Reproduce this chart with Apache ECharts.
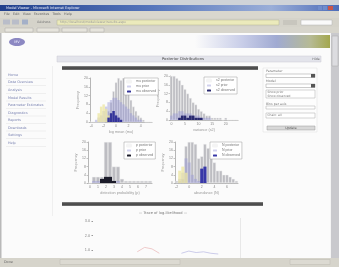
<!DOCTYPE html>
<html>
<head>
<meta charset="utf-8">
<script src="https://cdn.jsdelivr.net/npm/echarts@6/dist/echarts.min.js"></script>
<style>
html,body{margin:0;padding:0;background:#eeeeef;overflow:hidden;}
#main{width:339px;height:267px;filter:blur(0.5px);}
</style>
</head>
<body>
<div id="main"></div>
<script>
// histogram counts (0..20 scale)
var grayTL = [0,0,0,0,0,0,2,5,9,14,18,20,19,20,17,13,10,7,5,3,2,1,0,0,0];
var lavTL  = [0,0,1,2,3,5,7,9,10,11,11,10,9,8,7,6,4,3,2,1,1,0,0,0,0];
var yelTL  = [0,0,0,4,7,8,6,3,0,0,0,0,0,0,0,0,0,0,0,0,0,0,0,0,0];
var blueTL = [0,0,0,0,0,0,0,2,4,5,3,2,1,0,0,0,0,0,0,0,0,0,0,0,0];
var ticksTL = ['-4','-2','0','2','4'];

var grayTR = [20,20,19,18,16,14,12,10,8,7,5,4,3,2,2,1,1,1,1,0,1,0,0,0,0];
var lavTR  = [2,3,3,4,4,3,3,3,2,2,2,1,1,1,1,0,0,0,0,0,0,0,0,0,0];
var yelTR  = [0,0,0,0,0,0,0,0,0,0,0,0,0,0,0,0,0,0,0,0,0,0,0,0,0];
var blueTR = [0,0,0,1,2,2,1,2,2,1,1,1,0,0,0,0,0,0,0,0,0,0,0,0,0];
var ticksTR = ['0','5','10','15','20'];

var grayBL = [0,3,3,3,20,20,8,8,2,1,1,1,1,1,1,1];
var lavBL  = [0,1,1,1,2,2,1,1,0,0,0,0,0,0,0,0];
var yelBL  = [0,0,0,0,0,0,0,0,0,0,0,0,0,0,0,0];
var blueBL = [0,0,0,2,3,3,1,0,0,0,0,0,0,0,0,0];
var ticksBL = ['0','1','2','3','4','5','6','7'];

var grayBR = [1,1,2,18,20,20,19,12,13,19,17,12,10,6,6,4,4,3,2,1];
var lavBR  = [0,2,5,12,10,4,2,1,1,1,0,0,0,0,0,0,0,0,0,0];
var yelBR  = [0,6,8,5,0,0,0,0,0,0,0,0,0,0,0,0,0,0,0,0];
var blueBR = [0,0,0,0,0,0,0,0,7,8,0,0,0,0,0,0,0,0,0,0];
var ticksBR = ['-2','0','2','4','6'];

// bottom trace chart
var iters = ['1','2','3','4','5','6','7','8','9','10','11','12','13','14','15','16','17','18','19','20'];
var traceRed  = [null,null,null,null,null,null,0.9,1.2,1.1,0.8,null,null,null,null,null,null,null,null,null,null];
var traceBlue = [null,null,null,null,null,null,null,null,null,null,null,null,0.8,0.95,0.85,0.9,0.8,0.75,null,null];
var traceTicks = [0,1,2,3];

var navItems = ['Home','Data Overview','Analysis','Model Results','Parameter Estimates','Diagnostics','Reports','Downloads','Settings','Help'];

var myChart = echarts.init(document.getElementById('main'));

var grids = [], xAxes = [], yAxes = [], series = [], legends = [];

function binLabels(n, ticks){
	var step = Math.round((n - 1) / (ticks.length - 1));
	if(ticks.length * step > n) step = Math.floor(n / ticks.length);
	var out = [];
	for(var i=0; i<n; i++){
		out.push(i % step == 0 && ticks[i/step] != undefined ? ticks[i/step] : '');
	}
	return {labels: out, step: step};
}

function addHist(box, gray, lav, yel, blue, blueColor, ticks, xName, yName, names, legendPos){
	var idx = grids.length;
	grids.push({left: box[0], top: box[1], width: box[2], height: box[3]});
	var b = binLabels(gray.length, ticks);
	xAxes.push({
		gridIndex: idx, type: 'category', data: b.labels,
		axisLine: {lineStyle: {color: '#888', width: 0.6}},
		axisTick: {interval: function(i){ return i % b.step == 0; }, alignWithLabel: true, length: 1.5, lineStyle: {color: '#888', width: 0.5}},
		axisLabel: {interval: 0, fontSize: 3.5, color: '#888', margin: 2},
		name: xName, nameLocation: 'middle', nameGap: 8,
		nameTextStyle: {fontSize: 3.8, color: '#999'}
	});
	yAxes.push({
		gridIndex: idx, type: 'value', min: 0, max: 20, interval: 4,
		axisLine: {show: true, lineStyle: {color: '#888', width: 0.6}},
		axisTick: {show: true, length: 1.5, lineStyle: {color: '#888', width: 0.5}},
		axisLabel: {fontSize: 3.5, color: '#888', margin: 2},
		splitLine: {show: false},
		name: yName, nameLocation: 'middle', nameGap: 8,
		nameTextStyle: {fontSize: 3.8, color: '#999'}
	});
	var common = {type: 'bar', xAxisIndex: idx, yAxisIndex: idx, barGap: '-100%', barCategoryGap: 0, silent: true};
	series.push(Object.assign({name: names[0], data: gray, z: 2,
		itemStyle: {color: '#bdbdc2', borderColor: '#f4f4f4', borderWidth: 0.4}}, common));
	series.push(Object.assign({name: names[1], data: lav, z: 3,
		itemStyle: {color: 'rgba(150,150,215,0.45)'}}, common));
	series.push(Object.assign({name: names[3], data: yel, z: 3,
		itemStyle: {color: 'rgba(236,230,160,0.75)'}}, common));
	series.push(Object.assign({name: names[2], data: blue, z: 4,
		itemStyle: {color: blueColor}}, common));
	legends.push({
		left: legendPos[0], top: legendPos[1], orient: 'vertical',
		data: [names[0], names[1], names[2]],
		itemWidth: 4, itemHeight: 2, itemGap: 1, padding: [1.5, 2],
		backgroundColor: '#fff', borderColor: '#999', borderWidth: 0.5,
		textStyle: {fontSize: 3.5, color: '#777'}
	});
}

addHist([90, 78, 62, 44], grayTL, lavTL, yelTL, blueTL, '#34349a', ticksTL, 'log mean (mu)', 'Frequency',
	['mu posterior','mu prior','mu observed','mu other'], [124, 78]);
addHist([170, 76, 68, 44], grayTR, lavTR, yelTR, blueTR, '#2a2a70', ticksTR, 'variance (s2)', 'Frequency',
	['s2 posterior','s2 prior','s2 observed','s2 other'], [204, 77]);
addHist([88, 142, 64, 41], grayBL, lavBL, yelBL, blueBL, '#1c1c2a', ticksBL, 'detection probability (p)', 'Frequency',
	['p posterior','p prior','p observed','p other'], [124, 142]);
addHist([175, 142, 63, 41], grayBR, lavBR, yelBR, blueBR, '#3838a8', ticksBR, 'abundance (N)', 'Frequency',
	['N posterior','N prior','N observed','N other'], [210, 142]);

// bottom trace chart
var bIdx = grids.length;
grids.push({left: 93, top: 221, width: 140, height: 52, show: true, borderColor: '#bbb', borderWidth: 0.6, backgroundColor: '#fff'});
xAxes.push({gridIndex: bIdx, type: 'category', data: iters, boundaryGap: false,
	axisLine: {show: false}, axisTick: {show: false}, axisLabel: {show: false}});
yAxes.push({gridIndex: bIdx, type: 'value', min: 0, max: 3, interval: 1,
	axisLine: {show: false}, axisTick: {show: true, length: 1.5, lineStyle: {color: '#999'}},
	axisLabel: {fontSize: 3.8, color: '#888', margin: 3, formatter: function(v){ return traceTicks.indexOf(v) >= 0 ? v.toFixed(1) : ''; }},
	splitLine: {show: false}});
series.push({type: 'line', name: 'chain 1', xAxisIndex: bIdx, yAxisIndex: bIdx, data: traceRed, symbol: 'none',
	lineStyle: {color: '#eab4b4', width: 0.7}, silent: true});
series.push({type: 'line', name: 'chain 2', xAxisIndex: bIdx, yAxisIndex: bIdx, data: traceBlue, symbol: 'none',
	lineStyle: {color: '#b8b8e2', width: 0.7}, silent: true});

function rect(x, y, w, h, fill, stroke, z){
	return {type: 'rect', shape: {x: x, y: y, width: w, height: h}, z: z || 0,
		style: {fill: fill, stroke: stroke || null, lineWidth: stroke ? 0.5 : 0}};
}
function txt(x, y, s, size, color, align, z){
	return {type: 'text', x: x, y: y, z: z || 1,
		style: {text: s, fill: color, font: size + 'px "DejaVu Sans", sans-serif',
			align: align || 'left', textAlign: align || 'left', verticalAlign: 'middle', textVerticalAlign: 'middle'}};
}
function hgrad(stops){
	return new echarts.graphic.LinearGradient(0, 0, 1, 0, stops);
}
function vgrad(stops){
	return new echarts.graphic.LinearGradient(0, 0, 0, 1, stops);
}

var gfx = [];
// browser chrome
gfx.push(rect(0, 0, 339, 5, '#cfd3d8'));
gfx.push(rect(0, 5, 339, 6, hgrad([{offset:0,color:'#21408c'},{offset:0.45,color:'#5676bc'},{offset:0.8,color:'#9aaed8'},{offset:1,color:'#4d6cb8'}])));
gfx.push(txt(6, 8, 'Model Viewer - Microsoft Internet Explorer', 3.5, '#e8ecf8'));
gfx.push(rect(318, 6, 4, 4, '#6f8ccc'), rect(323, 6, 4, 4, '#6f8ccc'), rect(328, 6, 5, 4, '#c9564a'));
gfx.push(rect(0, 11, 339, 7, '#d9d7ce'));
gfx.push(txt(4, 14.5, 'File   Edit   View   Favorites   Tools   Help', 3.4, '#666'));
gfx.push(rect(0, 18, 339, 9, '#d5d3ca'));
gfx.push(rect(3, 19.5, 7, 5, '#b9bdc9'), rect(12, 19.5, 7, 5, '#b9bdc9'), rect(22, 19.5, 6, 5, '#a4b0c8'));
gfx.push(txt(37, 22.5, 'Address', 3.4, '#777'));
gfx.push(rect(57, 20, 222, 5, '#ebeabb', '#b2b094'));
gfx.push(txt(60, 22.5, 'http://localhost/modelviewer/results.aspx', 3.2, '#999'));
gfx.push(rect(283, 20, 14, 5, '#c8c6be'));
gfx.push(rect(301, 20, 31, 5, '#fafafa', '#b0b0b0'));
gfx.push(rect(0, 27, 339, 6, '#d7d5cc'));
gfx.push(rect(5, 28, 28, 4, '#e6e4dc', '#aaa'), rect(37, 28, 22, 4, '#e6e4dc', '#aaa'),
	rect(62, 28, 25, 4, '#e6e4dc', '#aaa'), rect(90, 28, 14, 4, '#e6e4dc', '#aaa'));
// page
gfx.push(rect(0, 33, 331, 226, '#fbfbfb'));
gfx.push(rect(0, 33, 1.5, 226, '#b9b9b9'));
gfx.push({type: 'ellipse', shape: {cx: 17, cy: 42, rx: 8, ry: 4}, style: {fill: '#8c88c2'}});
gfx.push(txt(17, 42, 'MV', 3.5, '#eef', 'center', 2));
gfx.push(rect(195, 35, 136, 13, hgrad([{offset:0,color:'#fbfbfb'},{offset:0.35,color:'#c8cde8'},{offset:0.6,color:'#a0aad2'},{offset:0.85,color:'#b6ba94'},{offset:1,color:'#a2a64a'}])));
gfx.push(rect(52, 66, 0.6, 150, '#e8e8e8'));
// left nav
for(var i=0; i<navItems.length; i++){
	gfx.push(txt(8, 75 + i * 7.55, navItems[i], 3.4, '#7880b0'));
	gfx.push(rect(6, 78 + i * 7.55, 40, 0.5, '#e3e3e3'));
}
// panel header
gfx.push(rect(57, 56, 264, 6, '#e3e4eb', '#c8c8d2'));
gfx.push(txt(183, 59, 'Posterior Distributions', 3.8, '#444', 'center'));
gfx.push(txt(316, 59, 'Hide', 3.2, '#666', 'center'));
var darkBar = vgrad([{offset:0,color:'#8a8a8a'},{offset:0.5,color:'#3c3c3c'},{offset:1,color:'#7a7a7a'}]);
gfx.push(rect(62, 66, 196, 4, darkBar));
gfx.push(rect(62, 202, 201, 4, darkBar));
// right sidebar form
gfx.push(rect(263, 68, 54, 64, '#fdfdfd', '#dedede'));
gfx.push(txt(266, 71.5, 'Parameter', 3.2, '#777'));
gfx.push(rect(266, 74, 49, 3.5, '#fff', '#999'), rect(311, 74, 4, 3.5, '#555'));
gfx.push(txt(266, 81.5, 'Model', 3.2, '#777'));
gfx.push(rect(266, 84, 49, 3.5, '#fff', '#999'), rect(311, 84, 4, 3.5, '#555'));
gfx.push(rect(266, 90, 49, 8, '#fff', '#aaa'));
gfx.push(txt(267.5, 92.3, 'Show prior', 3, '#777'), txt(267.5, 95.8, 'Show observed', 3, '#777'));
gfx.push(txt(266, 104, 'Bins per axis', 3.2, '#777'));
gfx.push(rect(266, 106, 49, 3, '#fff', '#aaa'));
gfx.push(rect(266, 113, 49, 5, '#fff', '#aaa'));
gfx.push(txt(267.5, 115.5, 'Chain: all', 3, '#777'));
gfx.push(rect(267, 126, 48, 4, '#d8d8d8', '#999'));
gfx.push(txt(291, 128, 'Update', 3.2, '#555', 'center'));
// bottom chart extras
gfx.push(txt(163, 213, '— Trace of log-likelihood —', 3.6, '#777', 'center'));
gfx.push(rect(240, 218, 0.6, 41, '#dcdcdc'));
// status bar + scrollbar
gfx.push(rect(0, 258, 339, 9, '#d6d4cb', null, 100));
gfx.push(txt(4, 262, 'Done', 3.4, '#666', 'left', 101));
gfx.push(rect(60, 259.5, 120, 5, '#dcdad2', '#bdbbb2', 101), rect(290, 259.5, 40, 5, '#dcdad2', '#bdbbb2', 101));
gfx.push(rect(331, 33, 8, 225, '#c9c9cd', null, 100), rect(330, 33, 1, 225, '#f5f5f5', null, 100));
gfx.push(rect(332, 36, 6, 30, '#dcdce0', '#aaa', 101));

var option = {
	backgroundColor: '#eeeeef',
	animation: false,
	grid: grids,
	xAxis: xAxes,
	yAxis: yAxes,
	legend: legends,
	series: series,
	graphic: {elements: gfx}
};
myChart.setOption(option);
</script>
</body>
</html>
